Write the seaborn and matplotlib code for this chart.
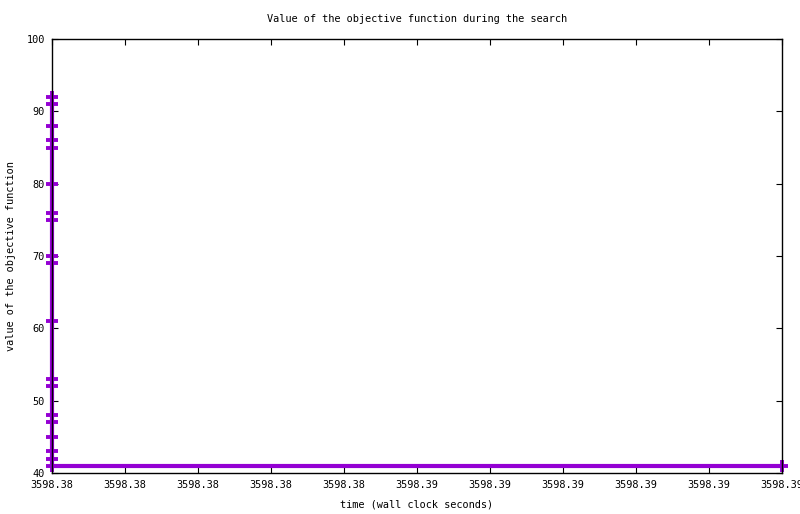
import seaborn as sns
import matplotlib
matplotlib.use("Agg")
import matplotlib.pyplot as plt
import pandas as pd

time_s = [3598.380] * 19 + [3598.390]
objective = [92, 91, 88, 86, 85, 80, 76, 75, 70, 69,
             61, 53, 52, 48, 47, 45, 43, 42, 41, 41]

xtick_vals = [3598.380, 3598.381, 3598.382, 3598.383, 3598.384, 3598.385,
              3598.386, 3598.387, 3598.388, 3598.389, 3598.390]
xtick_labels = ["3598.38"] * 5 + ["3598.39"] * 6
ytick_vals = [40, 50, 60, 70, 80, 90, 100]

df = pd.DataFrame({"time": time_s, "objective": objective})

sns.set_style("ticks", {"text.color": "black", "axes.labelcolor": "black",
                        "xtick.color": "black", "ytick.color": "black"})
plt.rcParams["font.family"] = ["DejaVu Sans Mono"]
plt.rcParams["font.size"] = 7.4

fig = plt.figure(figsize=(8, 5.14), dpi=100)
ax = fig.add_axes([0.065, 0.0798, 0.9125, 0.8443])

sns.lineplot(data=df, x="time", y="objective", sort=False, estimator=None,
             color="#9400D3", linewidth=3.0, marker="+", markersize=8.5,
             markeredgewidth=2.8, markeredgecolor="#9400D3", clip_on=False,
             zorder=2, ax=ax)

ax.set_xlim(3598.380, 3598.390)
ax.set_ylim(40, 100)
ax.set_xticks(xtick_vals)
ax.set_xticklabels(xtick_labels)
ax.set_yticks(ytick_vals)

for side in ["top", "right", "bottom", "left"]:
    ax.spines[side].set_visible(True)
    ax.spines[side].set_color("black")
    ax.spines[side].set_linewidth(1.0)
    ax.spines[side].set_zorder(3)

ax.tick_params(direction="in", length=4, width=0.8, top=True, right=True,
               colors="black", labelsize=7.4, pad=5)

ax.set_title("Value of the objective function during the search",
             fontsize=7.4, pad=12, color="black")
ax.set_xlabel("time (wall clock seconds)", fontsize=7.4, labelpad=7,
              color="black")
ax.set_ylabel("value of the objective function", fontsize=7.4, labelpad=8,
              color="black")

fig.savefig("out.png", dpi=100)
